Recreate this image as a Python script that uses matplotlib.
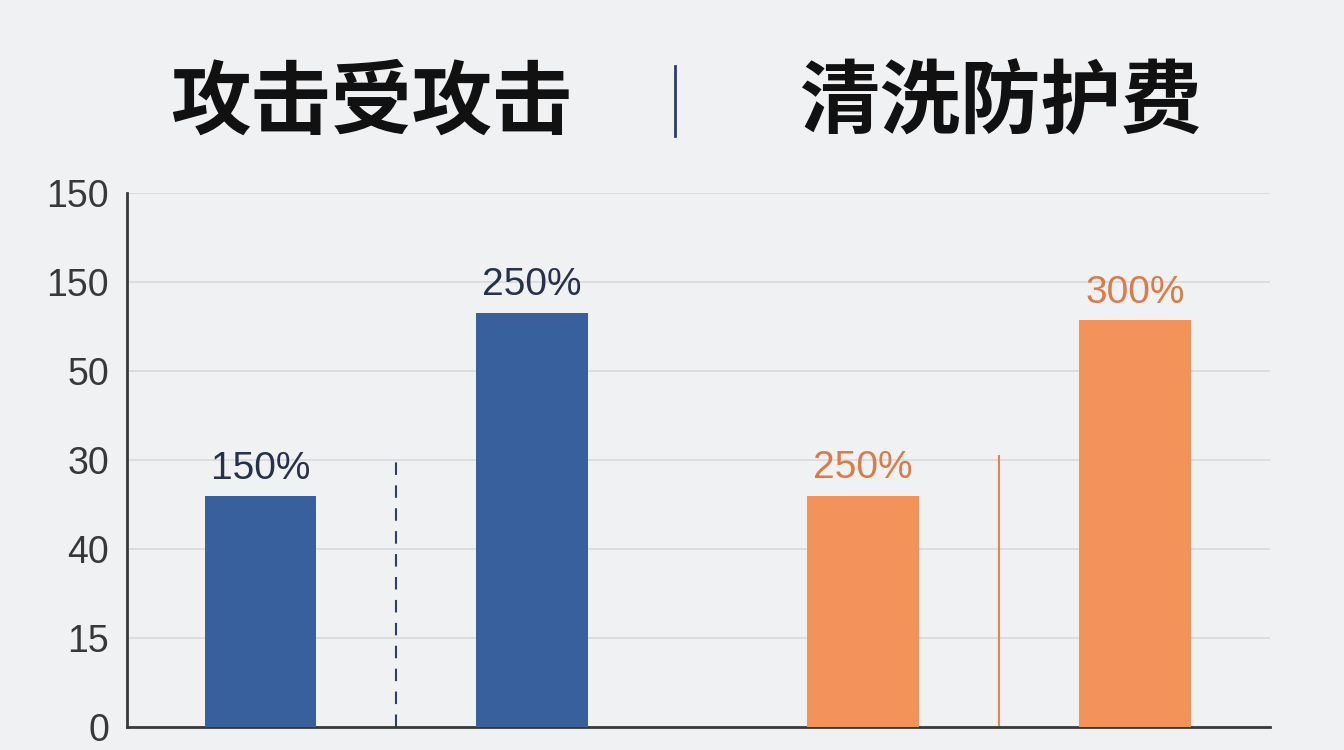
import matplotlib.pyplot as plt

plt.rcParams['font.family'] = ['Liberation Sans', 'Noto Sans CJK SC', 'DejaVu Sans']

# 数据
labels = ['150%', '250%', '250%', '300%']
values = [2.59, 4.65, 2.60, 4.57]
colors = ['#37609c', '#37609c', '#f3925a', '#f3925a']
label_colors = ['#27324a', '#27324a', '#dc7b48', '#dc7b48']
ytick_labels = ['0', '15', '40', '30', '50', '150', '150']
title_left = '攻击受攻击'
title_right = '清洗防护费'

pos = [0, 1, 2.217, 3.217]

fig = plt.figure(figsize=(13.44, 7.5), dpi=100)
fig.patch.set_facecolor('#f0f1f3')

ax = fig.add_axes([127 / 1344, 1 - 727 / 750, 1143 / 1344, 534 / 750])
ax.set_facecolor('none')
ax.bar(pos, values, width=0.41, color=colors, zorder=3)
for x, v, t, c in zip(pos, values, labels, label_colors):
    ax.annotate(t, (x, v), xytext=(0, 7), textcoords='offset points',
                ha='center', va='bottom', fontsize=28, color=c)

# 分隔线
ax.plot([0.5, 0.5], [0, 3.09], color='#2c3e66', lw=1.5, ls=(0, (6, 5)), zorder=2)
ax.plot([2.717, 2.717], [0, 3.05], color='#e8834f', lw=1.5, zorder=2)

ax.set_xlim(-0.49, 3.713)
ax.set_ylim(0, 6)
ax.set_yticks(range(7))
ax.set_yticklabels(ytick_labels, fontsize=27, color='#383838')
ax.set_xticks([])
ax.tick_params(axis='y', length=0, pad=13)
ax.grid(axis='y', color='#d8d9dc', lw=1.2, zorder=0)
for s in ['top', 'right']:
    ax.spines[s].set_visible(False)
ax.spines['left'].set_color('#3a3a3a')
ax.spines['bottom'].set_color('#3a3a3a')
ax.spines['left'].set_linewidth(2)
ax.spines['bottom'].set_linewidth(2)

# 标题
fig.text(371 / 1344, 1 - 104 / 750, title_left, ha='center', va='center',
         fontsize=58, fontweight='heavy', family=['Noto Sans CJK SC'], color='#111111')
fig.text(1000 / 1344, 1 - 104 / 750, title_right, ha='center', va='center',
         fontsize=58, fontweight='heavy', family=['Noto Sans CJK SC'], color='#111111')
fig.add_artist(plt.Line2D([675 / 1344, 675 / 1344], [1 - 66 / 750, 1 - 136 / 750],
                          color='#2c3e66', lw=2))

plt.savefig('out.png', dpi=100, facecolor=fig.get_facecolor())
